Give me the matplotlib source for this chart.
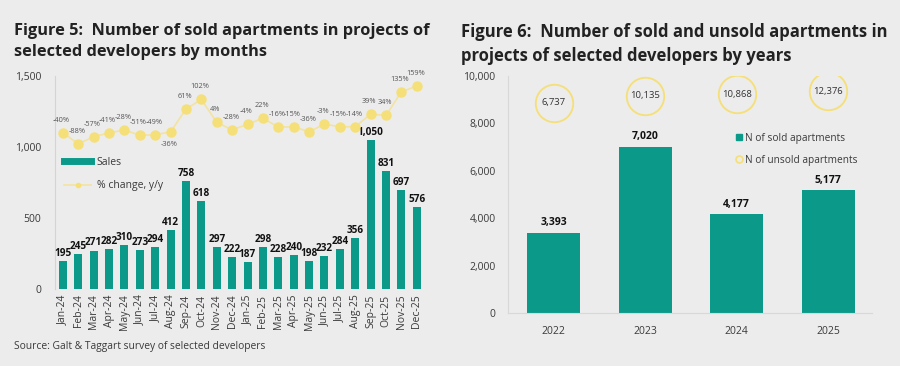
import matplotlib
matplotlib.use("Agg")
import matplotlib.pyplot as plt
from matplotlib.lines import Line2D

plt.rcParams['font.family'] = ['Open Sans', 'DejaVu Sans']

months = ["Jan-24", "Feb-24", "Mar-24", "Apr-24", "May-24", "Jun-24", "Jul-24", "Aug-24",
          "Sep-24", "Oct-24", "Nov-24", "Dec-24", "Jan-25", "Feb-25", "Mar-25", "Apr-25",
          "May-25", "Jun-25", "Jul-25", "Aug-25", "Sep-25", "Oct-25", "Nov-25", "Dec-25"]
sales = [195, 245, 271, 282, 310, 273, 294, 412, 758, 618, 297, 222,
         187, 298, 228, 240, 198, 232, 284, 356, 1050, 831, 697, 576]
pct_change = [-40, -88, -57, -41, -28, -51, -49, -36, 61, 102, 4, -28,
              -4, 22, -16, -15, -36, -3, -15, -14, 39, 34, 135, 159]

years = ["2022", "2023", "2024", "2025"]
sold = [3393, 7020, 4177, 5177]
unsold = [6737, 10135, 10868, 12376]

BG = "#ececec"
TEAL = "#0b9a89"
YEL = "#f5df78"
YEL_LINE = "#f3e3a0"
TXT = "#222222"
TICK = "#3a3a3a"

fig = plt.figure(figsize=(9, 3.66), dpi=100, facecolor=BG)

# ---------- Figure 5 ----------
ax1 = fig.add_axes([0.061, 0.2104, 0.411, 0.5819])
ax1.set_facecolor(BG)
x = list(range(len(months)))
ax1.bar(x, sales, width=0.52, color=TEAL, zorder=2)
for xi, v in zip(x, sales):
    ax1.annotate(f"{v:,}", (xi, v), xytext=(0, 1.5), textcoords="offset points",
                 ha="center", va="bottom", fontsize=7.2, fontweight="bold", color="#111111", zorder=4)
ax1.set_ylim(0, 1500)
ax1.set_xlim(-0.52, 23.52)
ax1.set_yticks([0, 500, 1000, 1500])
ax1.set_yticklabels(["0", "500", "1,000", "1,500"])
ax1.set_xticks(x)
ax1.set_xticklabels(months, rotation=90)
ax1.tick_params(axis="both", length=0, labelsize=7.5, colors=TICK)
ax1.tick_params(axis="y", pad=10)
ax1.tick_params(axis="x", pad=4)
for s in ["top", "right", "bottom"]:
    ax1.spines[s].set_visible(False)
ax1.spines["left"].set_color("#d4d4d4")

ax1b = ax1.twinx()
ax1b.set_ylim(-707, 202)
ax1b.plot(x, pct_change, color=YEL_LINE, lw=1.2, marker="o", ms=6.5,
          mfc=YEL, mec=YEL, zorder=3)
for xi, p in zip(x, pct_change):
    below = (xi == 7)
    ax1b.annotate(f"{p}%", (xi, p), xytext=(-1, -9 if below else 9), textcoords="offset points",
                  ha="center", va="center", fontsize=5.3, color="#555555")
ax1b.axis("off")

h1 = [Line2D([0], [0], color=TEAL, lw=5),
      Line2D([0], [0], color=YEL_LINE, lw=1.2, marker="o", ms=3, mfc=YEL, mec=YEL)]
ax1.legend(h1, ["Sales", "% change, y/y"], loc="upper left", bbox_to_anchor=(0.0, 0.665),
           frameon=False, fontsize=7.5, labelcolor=TICK, handlelength=2.6, labelspacing=1.2,
           handletextpad=0.5)

fig.text(0.016, 0.936, "Figure 5:  Number of sold apartments in projects of\nselected developers by months",
         fontsize=11.8, fontweight="bold", color=TXT, ha="left", va="top", linespacing=1.4)
fig.text(0.016, 0.052, "Source: Galt & Taggart survey of selected developers",
         fontsize=7.4, color=TICK, ha="left", va="center")

# ---------- Figure 6 ----------
ax2 = fig.add_axes([0.5644, 0.1448, 0.4046, 0.6475])
ax2.set_facecolor(BG)
xy = list(range(len(years)))
ax2.bar(xy, sold, width=0.58, color=TEAL, zorder=2)
for xi, v in zip(xy, sold):
    ax2.annotate(f"{v:,}", (xi, v), xytext=(0, 3), textcoords="offset points",
                 ha="center", va="bottom", fontsize=7.5, fontweight="bold", color="#111111")
ax2.set_ylim(0, 10000)
ax2.set_xlim(-0.5, 3.48)
ax2.set_yticks([0, 2000, 4000, 6000, 8000, 10000])
ax2.set_yticklabels(["0", "2,000", "4,000", "6,000", "8,000", "10,000"])
ax2.set_xticks(xy)
ax2.set_xticklabels(years)
ax2.tick_params(axis="both", length=0, labelsize=7.5, colors=TICK)
ax2.tick_params(axis="y", pad=9)
ax2.tick_params(axis="x", pad=9)
for s in ["top", "right"]:
    ax2.spines[s].set_visible(False)
ax2.spines["left"].set_color("#d8d8d8")
ax2.spines["bottom"].set_color("#d8d8d8")

ax2b = ax2.twinx()
ax2b.set_ylim(-97280, 19953)
ax2b.plot(xy, unsold, ls="none", marker="o", ms=27, mfc="none", mec=YEL, mew=1.3)
for xi, v in zip(xy, unsold):
    ax2b.text(xi, v, f"{v:,}", ha="center", va="center", fontsize=6.8, color="#333333")
ax2b.axis("off")

h2 = [Line2D([0], [0], ls="none", marker="s", ms=4, color=TEAL),
      Line2D([0], [0], ls="none", marker="o", ms=5, mfc="none", mec=YEL, mew=1.2)]
ax2.legend(h2, ["N of sold apartments", "N of unsold apartments"], loc="upper left",
           bbox_to_anchor=(0.6, 0.8), frameon=False, fontsize=7.3, labelcolor=TICK,
           handlelength=0.6, handletextpad=0.3, labelspacing=1.1)

fig.text(0.512, 0.936, "Figure 6:  Number of sold and unsold apartments in\nprojects of selected developers by years",
         fontsize=12, fontweight="bold", color=TXT, ha="left", va="top", linespacing=1.4)

fig.savefig("out.png", dpi=100, facecolor=BG)
